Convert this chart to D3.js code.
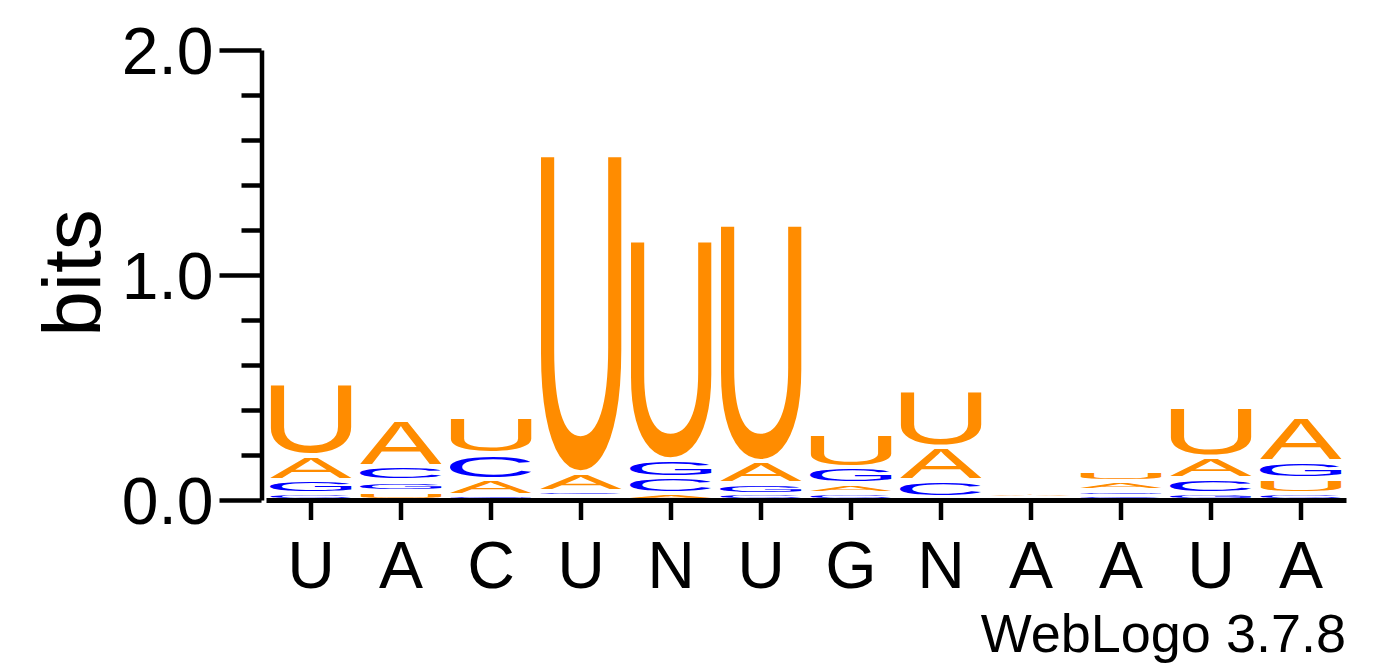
<!DOCTYPE html>
<html>
<head>
<meta charset="utf-8">
<script src="https://cdn.jsdelivr.net/npm/d3@7/dist/d3.min.js"></script>
<style>
  html, body { margin: 0; padding: 0; background: #fff; }
  svg { display: block; }
</style>
</head>
<body>
<svg id="chart" width="1392" height="667"></svg>
<script>
// ---- data ----
const positions = ["U","A","C","U","N","U","G","N","A","A","U","A"];
const bitsA = [0.113, 0.207, 0.071, 0.082, 0.030, 0.098, 0.044, 0.151, 0.012, 0.042, 0.096, 0.198];
const bitsC = [0.030, 0.067, 0.116, 0.022, 0.072, 0.025, 0.030, 0.073, 0.004, 0.020, 0.067, 0.030];
const bitsG = [0.058, 0.045, 0.020, 0.018, 0.078, 0.049, 0.071, 0.013, 0.004, 0.022, 0.030, 0.073];
const bitsU = [0.322, 0.040, 0.162, 1.416, 0.978, 1.056, 0.153, 0.251, 0.006, 0.047, 0.224, 0.067];
const yTicks = [0, 0.2, 0.4, 0.6, 0.8, 1.0, 1.2, 1.4, 1.6, 1.8, 2.0];
const yMajor = [0, 1.0, 2.0];
const yLabel = "bits";
const footer = "WebLogo 3.7.8";

const letters = ["A","C","G","U"];
const bitsBy = {A: bitsA, C: bitsC, G: bitsG, U: bitsU};
const colorBy = {A: "#FF8C00", C: "#0000FF", G: "#0000FF", U: "#FF8C00"};

const FONT = "'Liberation Sans', Arial, Helvetica, sans-serif";
const svg = d3.select("#chart");

const x = d3.scaleBand().domain(d3.range(positions.length)).range([266, 1346]).padding(0);
const y = d3.scaleLinear().domain([0, 2]).range([500, 50]);
const isMajor = d => yMajor.some(v => Math.abs(v - d) < 1e-9);

// glyph ink metrics
const ctx = document.createElement("canvas").getContext("2d");
ctx.font = "100px " + FONT;
const metrics = {};
letters.forEach(l => {
  const m = ctx.measureText(l);
  metrics[l] = {L: m.actualBoundingBoxLeft, R: m.actualBoundingBoxRight,
                A: m.actualBoundingBoxAscent, D: m.actualBoundingBoxDescent};
});

// stacks
const stacks = positions.map((p, i) => {
  const items = letters.map(l => ({letter: l, v: bitsBy[l][i]})).sort((a, b) => a.v - b.v);
  let cum = 0;
  return items.map(d => { const o = {i, letter: d.letter, y0: cum, y1: cum + d.v}; cum += d.v; return o; });
}).flat();

const inkW = 82;
svg.append("g").selectAll("text").data(stacks).join("text")
  .attr("x", 0).attr("y", 0)
  .style("font-family", FONT).style("font-size", "100px")
  .attr("fill", d => colorBy[d.letter])
  .text(d => d.letter)
  .attr("transform", d => {
    const m = metrics[d.letter];
    const top = y(d.y1), bot = y(d.y0);
    const h = bot - top;
    const pad = Math.min(2.3, h * 0.33);
    const ih = h - 2 * pad;
    const cx = x(d.i) + x.bandwidth() / 2;
    const sx = inkW / (m.L + m.R);
    const sy = ih / (m.A + m.D);
    return `translate(${cx - inkW / 2},${top + pad}) scale(${sx},${sy}) translate(${m.L},${m.A})`;
  });

// y axis
const yAxis = d3.axisLeft(y).tickValues(yTicks).tickSize(42).tickSizeOuter(0).tickPadding(6)
  .tickFormat(d => isMajor(d) ? d3.format(".1f")(d) : "");
const gy = svg.append("g").attr("transform", "translate(261.5,0)").call(yAxis);
gy.select(".domain").attr("stroke", "#000").attr("stroke-width", 4.5);
gy.selectAll(".tick line").attr("stroke", "#000").attr("stroke-width", 4.5)
  .attr("x2", d => isMajor(d) ? -42 : -20);
gy.selectAll(".tick text").filter(d => !isMajor(d)).remove();
gy.selectAll(".tick text").style("font-family", FONT).style("font-size", "66px").attr("fill", "#000")
  .attr("dy", "0.36em");

// x axis
const xAxis = d3.axisBottom(x).tickSize(20).tickSizeOuter(0).tickPadding(21)
  .tickFormat(i => positions[i]);
const gx = svg.append("g").attr("transform", "translate(0,500)").call(xAxis);
gx.select(".domain").attr("stroke", "#000").attr("stroke-width", 5);
gx.selectAll(".tick line").attr("stroke", "#000").attr("stroke-width", 4.5);
gx.selectAll(".tick text").style("font-family", FONT).style("font-size", "66px").attr("fill", "#000");

// y label
svg.append("text")
  .attr("transform", "translate(100,273) rotate(-90)")
  .attr("text-anchor", "middle")
  .style("font-family", FONT).style("font-size", "82px").attr("fill", "#000")
  .text(yLabel);

// footer
svg.append("text")
  .attr("x", 1346).attr("y", 652)
  .attr("text-anchor", "end")
  .style("font-family", FONT).style("font-size", "54px").attr("fill", "#000")
  .text(footer);
</script>
</body>
</html>
